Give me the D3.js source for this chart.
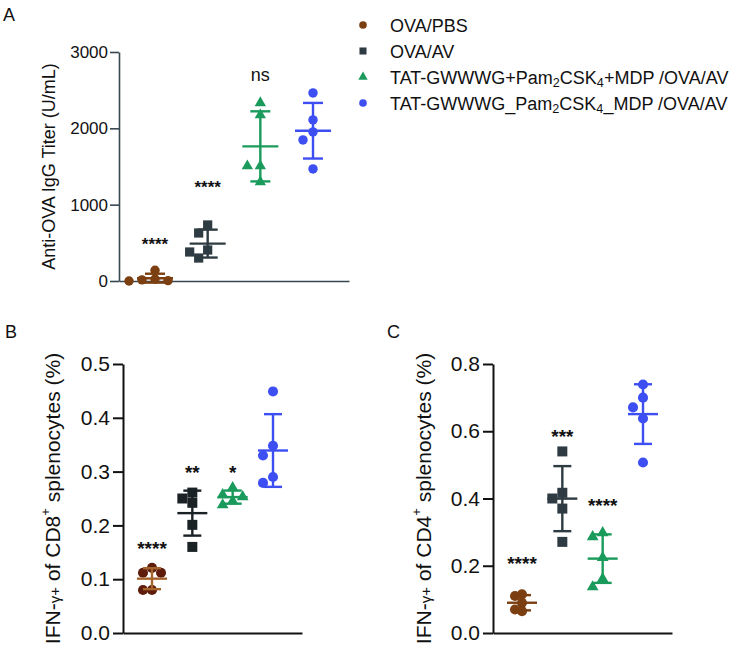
<!DOCTYPE html>
<html>
<head>
<meta charset="utf-8">
<script src="https://cdn.jsdelivr.net/npm/d3@7"></script>
<style>
  html, body { margin: 0; padding: 0; background: #fff; }
  svg { display: block; font-family: "Liberation Sans", Arial, Helvetica, sans-serif; }
</style>
</head>
<body>
<svg id="chart" width="742" height="652"></svg>
<script>
// ---------------- DATA ----------------
const groups = [
  "OVA/PBS",
  "OVA/AV",
  "TAT-GWWWG+Pam2CSK4+MDP /OVA/AV",
  "TAT-GWWWG_Pam2CSK4_MDP /OVA/AV"
];
const groupShapes = ["circle", "square", "triangle", "circle"];

// Panel A: Anti-OVA IgG titer (U/mL)
const titerA = [
  [140, 25, 15, 5, 0],
  [734, 629, 406, 380, 301],
  [2333, 2175, 1507, 1507, 1297],
  [2464, 2110, 1953, 1848, 1468]
];
const ticksA = [0, 1000, 2000, 3000];
const sigA = ["****", "****", "ns", ""];
const sigValA = [530, 1270, 2680, null];

// Panel B: IFN-γ+ of CD8+ splenocytes (%)
const cd8B = [
  [0.121, 0.112, 0.112, 0.080, 0.080],
  [0.261, 0.250, 0.242, 0.201, 0.160],
  [0.270, 0.257, 0.253, 0.245, 0.238],
  [0.449, 0.348, 0.330, 0.290, 0.279]
];
const ticksB = [0, 0.1, 0.2, 0.3, 0.4, 0.5];
const sigB = ["****", "**", "*", ""];
const sigValB = [0.165, 0.305, 0.305, null];

// Panel C: IFN-γ+ of CD4+ splenocytes (%)
const cd4C = [
  [0.115, 0.110, 0.090, 0.070, 0.065],
  [0.540, 0.417, 0.400, 0.370, 0.271],
  [0.298, 0.286, 0.224, 0.161, 0.137],
  [0.739, 0.700, 0.671, 0.638, 0.507]
];
const ticksC = [0, 0.2, 0.4, 0.6, 0.8];
const sigC = ["****", "***", "****", ""];
const sigValC = [0.218, 0.597, 0.39, null];

// ---------------- STYLE ----------------
const colorsA = ["#7b3f12", "#2e3b42", "#1a9b5c", "#3d4ff2"];
const colorsB = ["#5e1c0c", "#1b2226", "#1a9b5c", "#3d4ff2"];
const errColorsB = ["#a5642c", "#1b2226", "#1a9b5c", "#3d4ff2"];
const colorsC = ["#7b3f12", "#2e3b42", "#1a9b5c", "#3d4ff2"];

const svg = d3.select("#chart");
svg.append("rect").attr("width", 742).attr("height", 652).attr("fill", "#fff");

function symbolFor(shape) {
  return shape === "square" ? d3.symbolSquare : shape === "triangle" ? d3.symbolTriangle : d3.symbolCircle;
}

function dodge(values, y, spacing, minDist) {
  const placed = [];
  return values.map(v => {
    const py = y(v);
    let off = 0;
    const cands = [0];
    for (let i = 1; i < 8; i++) { cands.push(-i * spacing, i * spacing); }
    for (const c of cands) {
      if (placed.every(p => Math.hypot(p.dx - c, p.py - py) >= minDist - 0.01)) { off = c; break; }
    }
    placed.push({dx: off, py});
    return {v, dx: off, py};
  });
}

function drawPanel(cfg) {
  const g = svg.append("g");
  const y = d3.scaleLinear().domain(cfg.domain).range(cfg.yRange);
  const x = d3.scalePoint().domain(groups).range(cfg.xRange);

  // y axis
  const yAxis = g.append("g")
    .attr("transform", `translate(${cfg.axisX},0)`)
    .call(d3.axisLeft(y).tickValues(cfg.ticks).tickFormat(cfg.fmt)
      .tickSize(cfg.tickLen).tickSizeOuter(0).tickPadding(cfg.tickPad));
  yAxis.select(".domain").attr("stroke", cfg.axisColor).attr("stroke-width", cfg.axisW);
  yAxis.selectAll(".tick line").attr("stroke", cfg.axisColor).attr("stroke-width", cfg.axisW);
  yAxis.selectAll(".tick text").attr("fill", "#111").style("font-size", cfg.tickFont + "px")
    .style("font-family", "'Liberation Sans', Arial, sans-serif");

  // x axis (baseline only)
  const xl = d3.scaleLinear().domain([0, 1]).range([cfg.axisX, cfg.xEnd]);
  const xAxis = g.append("g").attr("transform", `translate(0,${y(0)})`)
    .call(d3.axisBottom(xl).tickValues([]).tickSizeOuter(0));
  xAxis.select(".domain").attr("stroke", cfg.axisColor).attr("stroke-width", cfg.axisW);

  // axis title
  const t = g.append("text")
    .attr("transform", `translate(${cfg.titleX},${(cfg.yRange[0] + cfg.yRange[1]) / 2}) rotate(-90)`)
    .attr("text-anchor", "middle").attr("fill", "#111")
    .style("font-size", cfg.titleFont + "px");
  cfg.titleParts.forEach(p => {
    const ts = t.append("tspan").text(p.t);
    if (p.small) ts.style("font-size", "0.72em");
    if (p.sup) ts.style("font-size", "0.62em").attr("dy", "-0.75em");
    if (p.reset) ts.attr("dy", "0.465em");
  });

  // points
  cfg.data.forEach((vals, gi) => {
    const cx = x(groups[gi]);
    const pts = dodge(vals, y, cfg.spacing[gi], cfg.minDist[gi]);
    g.selectAll(null).data(pts).enter().append("path")
      .attr("d", d3.symbol().type(symbolFor(groupShapes[gi])).size(cfg.sizes[groupShapes[gi]]))
      .attr("transform", d => `translate(${cx + d.dx},${d.py})`)
      .attr("fill", cfg.colors[gi]);
  });

  // mean ± SD
  cfg.data.forEach((vals, gi) => {
    const cx = x(groups[gi]);
    const m = d3.mean(vals), sd = d3.deviation(vals);
    const c = (cfg.errColors || cfg.colors)[gi];
    const eg = g.append("g").attr("stroke", c).attr("stroke-width", cfg.errW).attr("fill", "none");
    eg.append("line").attr("x1", cx).attr("x2", cx).attr("y1", y(m - sd)).attr("y2", y(m + sd));
    eg.append("line").attr("x1", cx - cfg.meanW / 2).attr("x2", cx + cfg.meanW / 2).attr("y1", y(m)).attr("y2", y(m));
    [m - sd, m + sd].forEach(v => {
      eg.append("line").attr("x1", cx - cfg.capW / 2).attr("x2", cx + cfg.capW / 2).attr("y1", y(v)).attr("y2", y(v));
    });
  });

  // significance labels
  cfg.sig.forEach((s, gi) => {
    if (!s) return;
    const isStar = s.indexOf("*") >= 0;
    g.append("text")
      .attr("x", x(groups[gi]))
      .attr("y", y(cfg.sigVal[gi]))
      .attr("dy", isStar ? "0.55em" : "0.28em")
      .attr("text-anchor", "middle").attr("fill", "#111")
      .style("font-size", (isStar ? cfg.starFont : cfg.nsFont) + "px")
      .style("font-weight", isStar ? "bold" : "normal")
      .text(s);
  });

  // panel letter
  svg.append("text").attr("x", cfg.letterX).attr("y", cfg.letterY)
    .attr("fill", "#111").style("font-size", "18px").text(cfg.letter);
}

drawPanel({
  data: titerA, domain: [0, 3000], yRange: [281, 52], xRange: [155, 313],
  ticks: ticksA, fmt: d3.format("d"), tickLen: 9, tickPad: 2, tickFont: 17,
  axisX: 119, xEnd: 349, axisColor: "#37474f", axisW: 1.6,
  titleX: 55, titleFont: 18,
  titleParts: [{t: "Anti-OVA IgG Titer (U/mL)"}],
  colors: colorsA, sizes: {circle: 70, square: 85, triangle: 56},
  spacing: [6.5, 9, 13, 10], minDist: [7, 10, 10, 11], errW: 2.4, meanW: 36, capW: 20,
  sig: sigA, sigVal: sigValA, starFont: 17, nsFont: 18,
  letter: "A", letterX: 3, letterY: 21
});

drawPanel({
  data: cd8B, domain: [0, 0.5], yRange: [633, 364], xRange: [152, 273],
  ticks: ticksB, fmt: d3.format(".1f"), tickLen: 10, tickPad: 3, tickFont: 21,
  axisX: 123, xEnd: 302, axisColor: "#111", axisW: 2,
  titleX: 60, titleFont: 21,
  titleParts: [{t: "IFN-"}, {t: "γ+", small: true}, {t: " of CD8"}, {t: "+", sup: true}, {t: " splenocytes (%)", reset: true}],
  colors: colorsB, errColors: errColorsB, sizes: {circle: 80, square: 100, triangle: 60},
  spacing: [9, 10, 10, 10], minDist: [9, 10, 10, 10], errW: 2.4, meanW: 30, capW: 18,
  sig: sigB, sigVal: sigValB, starFont: 19, nsFont: 20,
  letter: "B", letterX: 5, letterY: 338
});

drawPanel({
  data: cd4C, domain: [0, 0.8], yRange: [633, 364], xRange: [522, 643],
  ticks: ticksC, fmt: d3.format(".1f"), tickLen: 10, tickPad: 3, tickFont: 21,
  axisX: 493, xEnd: 672, axisColor: "#111", axisW: 2,
  titleX: 431, titleFont: 21,
  titleParts: [{t: "IFN-"}, {t: "γ+", small: true}, {t: " of CD4"}, {t: "+", sup: true}, {t: " splenocytes (%)", reset: true}],
  colors: colorsC, sizes: {circle: 80, square: 100, triangle: 60},
  spacing: [7, 10, 10, 10], minDist: [7, 10, 10, 10], errW: 2.4, meanW: 30, capW: 18,
  sig: sigC, sigVal: sigValC, starFont: 19, nsFont: 20,
  letter: "C", letterX: 387, letterY: 338
});

// ---------------- LEGEND ----------------
const legendColors = ["#7b3f12", "#2e3b42", "#1a9b5c", "#3d4ff2"];
const legendSizes = {circle: 46, square: 50, triangle: 38};
const lg = svg.append("g");
groups.forEach((name, i) => {
  const cy = 25 + i * 26;
  lg.append("path")
    .attr("d", d3.symbol().type(symbolFor(groupShapes[i])).size(legendSizes[groupShapes[i]]))
    .attr("transform", `translate(363,${cy})`)
    .attr("fill", legendColors[i]);
  const txt = lg.append("text").attr("x", 390).attr("y", cy + 6.5)
    .attr("fill", "#111").style("font-size", "18px");
  const parts = name.split(/(\d)/).filter(s => s.length);
  let shifted = false;
  parts.forEach(p => {
    const ts = txt.append("tspan").text(p);
    if (/^\d$/.test(p)) {
      ts.style("font-size", "0.7em").attr("dy", "0.3em");
      shifted = true;
    } else if (shifted) {
      ts.attr("dy", "-0.21em");
      shifted = false;
    }
  });
});
</script>
</body>
</html>
